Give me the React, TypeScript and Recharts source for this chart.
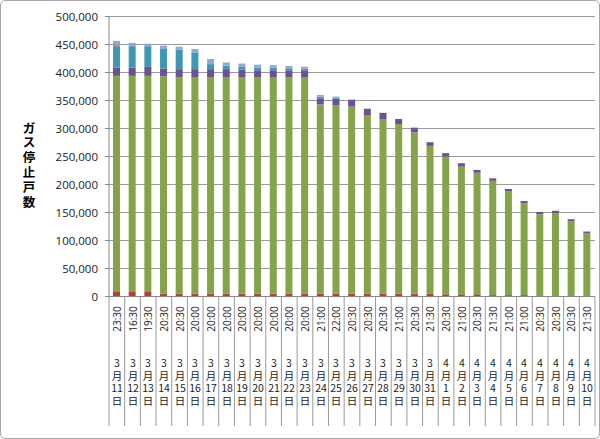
import React from 'react';
import { BarChart, Bar, XAxis, YAxis, CartesianGrid } from 'recharts';

// categories
const dates = [
  '3月11日', '3月12日', '3月13日', '3月14日', '3月15日', '3月16日', '3月17日', '3月18日',
  '3月19日', '3月20日', '3月21日', '3月22日', '3月23日', '3月24日', '3月25日', '3月26日',
  '3月27日', '3月28日', '3月29日', '3月30日', '3月31日', '4月1日', '4月2日', '4月3日',
  '4月4日', '4月5日', '4月6日', '4月7日', '4月8日', '4月9日', '4月10日',
];
const times = [
  '23:30', '16:30', '19:30', '20:30', '20:30', '20:00', '20:00', '20:00',
  '20:00', '20:00', '20:00', '20:00', '20:00', '21:00', '22:00', '20:30',
  '20:30', '20:30', '21:00', '20:30', '21:30', '20:30', '21:00', '20:30',
  '21:30', '21:00', '21:00', '20:30', '20:30', '20:30', '21:30',
];

// series values (households)
const redSeries = [
  8000, 8000, 8000, 5000, 5000, 5000, 5000, 5000, 5000, 5000, 5000, 5000, 5000, 5000, 5000, 5000,
  5000, 5000, 5000, 5000, 5000, 4000, 4000, 4000, 2500, 2500, 2500, 0, 0, 0, 0,
];
const greenSeries = [
  386000, 386000, 386000, 388000, 387000, 387000, 387000, 387000, 387000, 386000, 386000, 386000,
  386000, 338000, 336000, 334000, 319000, 312000, 303000, 288000, 264000, 246000, 228000, 217000,
  204000, 185000, 164000, 147000, 149000, 134500, 112500,
];
const purpleSeries = [
  15000, 15000, 16000, 14000, 14000, 14000, 14000, 14000, 13000, 13000, 13000, 13000, 13000,
  11000, 12000, 12000, 11000, 11000, 9000, 8500, 6500, 6000, 6000, 5000, 4500, 4500, 4000,
  4000, 4000, 3500, 3500,
];
const blueSeries = [
  38000, 38000, 37000, 35000, 35000, 30000, 9000, 6000, 5000, 5000, 4500, 3500, 3000,
  3000, 2000, 0, 0, 0, 0, 0, 0, 0, 0, 0, 0, 0, 0, 0, 0, 0, 0,
];
const orangeSeries = [
  3000, 0, 0, 0, 0, 0, 0, 0, 0, 0, 0, 0, 0, 0, 0, 0, 0, 0, 0, 0, 0, 0, 0, 0, 0, 0, 0, 0, 0, 0, 0,
];
const lavenderSeries = [
  6500, 6000, 4500, 6000, 5000, 6000, 9000, 6000, 6000, 5000, 4500, 4000, 3500,
  3000, 2000, 1000, 500, 0, 0, 0, 0, 0, 0, 0, 0, 0, 0, 0, 0, 0, 0,
];
const yTicks = [0, 50000, 100000, 150000, 200000, 250000, 300000, 350000, 400000, 450000, 500000];
const yTitle = 'ガス停止戸数';

const data = dates.map((d, i) => ({
  date: d,
  red: redSeries[i],
  green: greenSeries[i],
  purple: purpleSeries[i],
  blue: blueSeries[i],
  orange: orangeSeries[i],
  lavender: lavenderSeries[i],
}));

const PLOT_LEFT = 109;
const PLOT_RIGHT = 595;
const PLOT_TOP = 16.5;
const PLOT_BOTTOM = 296.5;
const BAND = (PLOT_RIGHT - PLOT_LEFT) / dates.length;
const CJK = '"Noto Sans CJK JP", sans-serif';

// time rotated, then the date stacked one character per line
function DateTick({ x, payload }: any) {
  const i = dates.indexOf(payload.value);
  const m = payload.value.match(/(\d+)月(\d+)日/) || [];
  const lines = [m[1], '月', m[2], '日'];
  const cx = Math.round(x);
  return (
    <g>
      <line x1={x - BAND / 2} x2={x - BAND / 2} y1={PLOT_BOTTOM} y2={426} stroke="#999" />
      {i === dates.length - 1 && (
        <line x1={x + BAND / 2} x2={x + BAND / 2} y1={PLOT_BOTTOM} y2={426} stroke="#999" />
      )}
      <text
        transform={`translate(${x},319) rotate(-90)`}
        textAnchor="middle"
        dominantBaseline="central"
        fontSize={10}
        fontFamily='"Open Sans", sans-serif'
        fill="#222"
      >
        {times[i]}
      </text>
      <text textAnchor="middle" fontSize={10.5} fontFamily={CJK} fill="#222">
        {lines.map((s, k) => (
          <tspan key={k} x={cx} y={367 + k * 12.5}>{s}</tspan>
        ))}
      </text>
    </g>
  );
}

export default function App() {
  return (
    <div style={{ position: 'absolute', left: 0, top: 0, width: 600, height: 439, background: '#fff' }}>
      <BarChart
        width={600}
        height={439}
        data={data}
        margin={{ top: PLOT_TOP, right: 600 - PLOT_RIGHT, left: 0, bottom: 0 }}
        barSize={7}
      >
        <CartesianGrid vertical={false} stroke="#9a9a9a" />
        <XAxis
          dataKey="date"
          interval={0}
          height={439 - PLOT_BOTTOM}
          tickLine={false}
          axisLine={{ stroke: '#888' }}
          tick={<DateTick />}
        />
        <YAxis
          width={PLOT_LEFT}
          domain={[0, 500000]}
          ticks={yTicks}
          interval={0}
          tickSize={4}
          tickMargin={7}
          axisLine={{ stroke: '#888' }}
          tickLine={{ stroke: '#888' }}
          tick={{ fill: '#222', fontSize: 11.5, fontFamily: '"Open Sans", sans-serif' }}
          tickFormatter={(v) => v.toLocaleString('en-US')}
        />
        <Bar dataKey="red" stackId="a" fill="#B8403A" isAnimationActive={false} />
        <Bar dataKey="green" stackId="a" fill="#85A44A" isAnimationActive={false} />
        <Bar dataKey="purple" stackId="a" fill="#6A5293" isAnimationActive={false} />
        <Bar dataKey="blue" stackId="a" fill="#3E98B4" isAnimationActive={false} />
        <Bar dataKey="orange" stackId="a" fill="#E8883A" isAnimationActive={false} />
        <Bar dataKey="lavender" stackId="a" fill="#92A8D2" isAnimationActive={false} />
      </BarChart>
      <svg style={{ position: 'absolute', left: 0, top: 0 }} width={60} height={230}>
        <text textAnchor="middle" fontFamily={CJK} fontWeight="bold" fontSize={12.5} fill="#000">
          {yTitle.split('').map((c, k) => (
            <tspan key={k} x={29} y={132.5 + k * 14.8}>{c}</tspan>
          ))}
        </text>
      </svg>
      <div
        style={{
          position: 'absolute',
          left: 0,
          top: 0,
          width: 600,
          height: 439,
          boxSizing: 'border-box',
          border: '1px solid #a8a8a8',
          borderRadius: 5,
          pointerEvents: 'none',
        }}
      />
    </div>
  );
}
